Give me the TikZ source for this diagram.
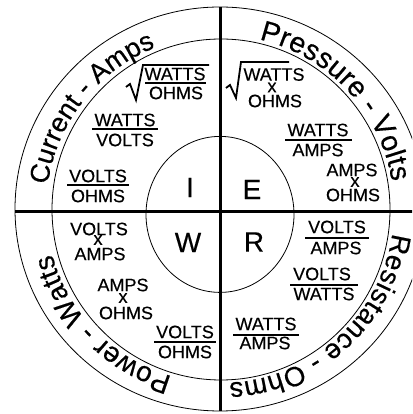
\documentclass[tikz,border=0pt]{standalone}
\usepackage{fontspec}
\setmainfont{Liberation Sans}[FakeBold=0.35]
\usetikzlibrary{decorations.text}
\newcommand\ringfont[1]{\fontsize{#1}{#1}\selectfont}
\begin{document}
\begin{tikzpicture}[x=1pt,y=1pt,
  word/.style={font=\fontsize{18}{18}\selectfont, inner sep=0pt},
  big/.style={font=\fontsize{28}{28}\selectfont, inner sep=0pt},
  fbar/.style={line width=2.6pt},
  rootsign/.style={line width=1.8pt, line join=miter},
  ring/.style={line width=0.8pt},
  axis/.style={line width=3pt},
  ringtext/.style 2 args={decorate, decoration={text along path, text align=fit to path, text={|\ringfont{#1}|#2}}}
]
\useasboundingbox (0,0) rectangle (412,414);
\clip (0,0) rectangle (412,414);
\coordinate (c) at (220,205);
% circles
\draw[ring] (220,205) ellipse[x radius=205, y radius=202];
\draw[ring] (221,204.5) ellipse[x radius=169, y radius=170.5];
\draw[ring] (220,199.6) ellipse[x radius=74, y radius=78];
% axes
\coordinate (hl) at (15,202);
\coordinate (hr) at (413,202);
\coordinate (vt) at (220,407);
\coordinate (vb) at (220,2.5);
\draw[axis] (hl) -- (hr);
\draw[axis] (vt) -- (vb);
% ring texts
\path[ringtext={27}{Current - Amps}] (c) ++(172:174) arc[start angle=172, end angle=112, radius=174];
\path[ringtext={28.5}{Pressure - Volts}] (c) ++(77:174) arc[start angle=77, end angle=9, radius=174];
\path[ringtext={27.5}{Resistance - Ohms}] (c) ++(-8:174) arc[start angle=-8, end angle=-87, radius=174];
\path[ringtext={28}{Power - Watts}] (c) ++(254:174) arc[start angle=254, end angle=195, radius=174];
% big letters
\node[big] (I) at (190,226.5) {I};
\node[big] (E) at (252,224.5) {E};
\node[big] (W) at (188,171.5) {W};
\node[big] (R) at (254,172) {R};
% top-left
\draw[rootsign] (126,327) -- (130,330) -- (136,314) -- (143,349) -- (209,349);
\node[word] (tl1a) at (175,340) {WATTS};
\draw[fbar] (145,331) -- (206,331);
\node[word] (tl1b) at (176,321) {OHMS};
\node[word] (tl2a) at (125,294) {WATTS};
\draw[fbar] (92,285) -- (158,285);
\node[word] (tl2b) at (125,274) {VOLTS};
\node[word] (tl3a) at (98,238) {VOLTS};
\draw[fbar] (67,229) -- (129,229);
\node[word] (tl3b) at (98,218) {OHMS};
% top-right
\draw[rootsign] (226,326) -- (230,329) -- (236,316) -- (241,352) -- (289,352);
\node[word] (tr1a) at (274,339.5) {WATTS};
\node[word] (tr1x) at (272,326.5) {x};
\node[word] (tr1b) at (275,313) {OHMS};
\node[word] (tr2a) at (318,284) {WATTS};
\draw[fbar] (285,274) -- (352,274);
\node[word] (tr2b) at (318,264) {AMPS};
\node[word] (tr3a) at (352,244) {AMPS};
\node[word] (tr3x) at (355,232) {x};
\node[word] (tr3b) at (353,219) {OHMS};
% bottom-left
\node[word] (bl1a) at (99,185) {VOLTS};
\node[word] (bl1x) at (98,174) {x};
\node[word] (bl1b) at (100,160) {AMPS};
\node[word] (bl2a) at (123,129) {AMPS};
\node[word] (bl2x) at (123,116) {x};
\node[word] (bl2b) at (126,101) {OHMS};
\node[word] (bl3a) at (185,82) {VOLTS};
\draw[fbar] (154,72) -- (216,72);
\node[word] (bl3b) at (185,62) {OHMS};
% bottom-right
\node[word] (br1a) at (337,187) {VOLTS};
\draw[fbar] (305,176) -- (369,176);
\node[word] (br1b) at (336,166) {AMPS};
\node[word] (br2a) at (322,140) {VOLTS};
\draw[fbar] (290,129) -- (358,129);
\node[word] (br2b) at (324,120) {WATTS};
\node[word] (br3a) at (266,90) {WATTS};
\draw[fbar] (233,79) -- (299,79);
\node[word] (br3b) at (265,71) {AMPS};
\end{tikzpicture}
\end{document}
